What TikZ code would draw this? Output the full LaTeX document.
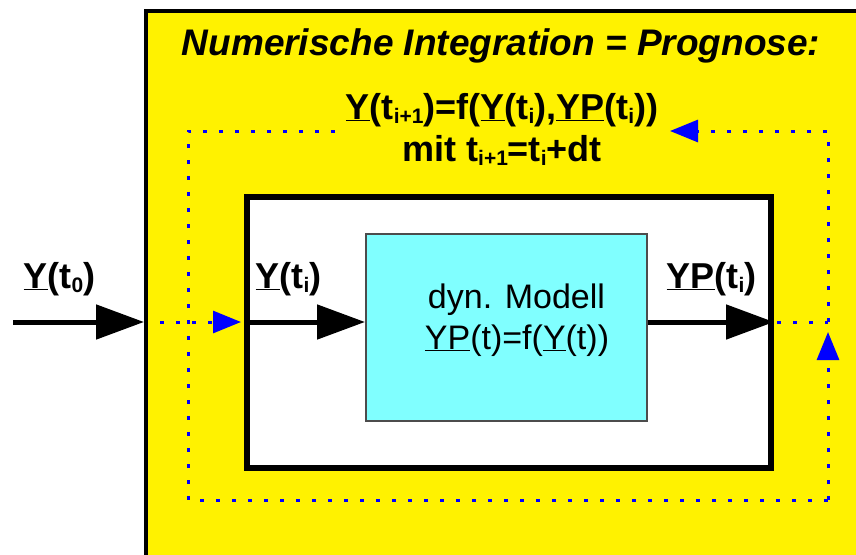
\documentclass[tikz,border=0pt]{standalone}
\usepackage{fontspec}
\setmainfont{Liberation Sans}
\usetikzlibrary{arrows.meta}
\definecolor{cyanbox}{RGB}{128,255,255}
\newcommand\lsub[1]{\raisebox{-4pt}{\fontsize{21}{22}\selectfont #1}}
\tikzset{
  bigarrow/.style={line width=5pt, -{Triangle[length=48pt,width=34pt]}},
  fbloop/.style={blue, line width=3pt, dash pattern=on 4pt off 12pt},
  fbarrow/.style={fbloop, -{Triangle[length=28pt,width=22pt]}},
  lbl/.style={font=\fontsize{36}{40}\selectfont\bfseries, inner sep=0pt, anchor=base},
  mdl/.style={font=\fontsize{34}{38}\selectfont, inner sep=0pt, anchor=base},
}
\begin{document}
\begin{tikzpicture}[x=1pt,y=-1pt]
\useasboundingbox (0,0) rectangle (856,554);
\fill[white] (0,0) rectangle (856,554);
% outer yellow box (extends beyond the right and bottom edges)
\node[draw=black, line width=4pt, fill=yellow, anchor=north west,
      minimum width=740pt, minimum height=580pt, inner sep=0pt] (outer) at (144,8.5) {};
% white box
\node[draw=black, line width=6pt, fill=white, anchor=north west,
      minimum width=524pt, minimum height=271pt, inner sep=0pt] (sys) at (244,194) {};
% cyan model box
\node[draw=black!70, line width=1.5pt, fill=cyanbox, anchor=north west,
      minimum width=281pt, minimum height=187pt, inner sep=0pt] (model) at (365,233) {};
% texts
\node[font=\fontsize{37}{40}\selectfont\bfseries\itshape, inner sep=0pt, anchor=base] (title) at (501,55)
  {Numerische Integration = Prognose:};
\node[lbl] (formula) at (502,119)
  {\underline{Y}(t\lsub{i+1})=f(\underline{Y}(t\lsub{i}),\underline{YP}(t\lsub{i}))};
\node[lbl] (mit) at (502,161)
  {mit t\lsub{i+1}=t\lsub{i}+dt};
\node[lbl] (y0) at (59.5,288) {\underline{Y}(t\lsub{0})};
\node[lbl] (yi) at (288.5,288) {\underline{Y}(t\lsub{i})};
\node[lbl] (ypi) at (711.5,288) {\underline{YP}(t\lsub{i})};
\node[mdl] (m1) at (516.5,308) {dyn. Modell};
\node[mdl] (m2) at (517,349) {\underline{YP}(t)=f(\underline{Y}(t))};
% coordinates of the feedback loop
\coordinate (in) at (13,322);
\coordinate (fbin) at (160,322);
\coordinate (fbout) at (828,322);
\coordinate (tl) at (188,131);
\coordinate (tr) at (828,131);
\coordinate (bl) at (188,500);
\coordinate (br) at (828,500);
\coordinate (tlend) at (335,131);
\coordinate (trend) at (670,131);
\coordinate (uptip) at (828,332);
% main arrows
\draw[bigarrow] (in) -- (outer.west |- in);
\draw[bigarrow] (sys.west |- in) -- (model.west |- in);
\draw[bigarrow] (model.east |- in) -- (sys.east |- in);
% feedback loop
\draw[fbarrow] (fbin) -- ([xshift=-3pt]sys.west |- fbin);
\draw[fbloop] ([xshift=3pt]sys.east |- fbout) -- (fbout);
\draw[fbarrow] (br) -- (uptip);
\draw[fbarrow] (fbout) -- (tr) -- (trend);
\draw[fbloop] (tlend) -- (tl) -- (bl) -- (br);
\end{tikzpicture}
\end{document}
